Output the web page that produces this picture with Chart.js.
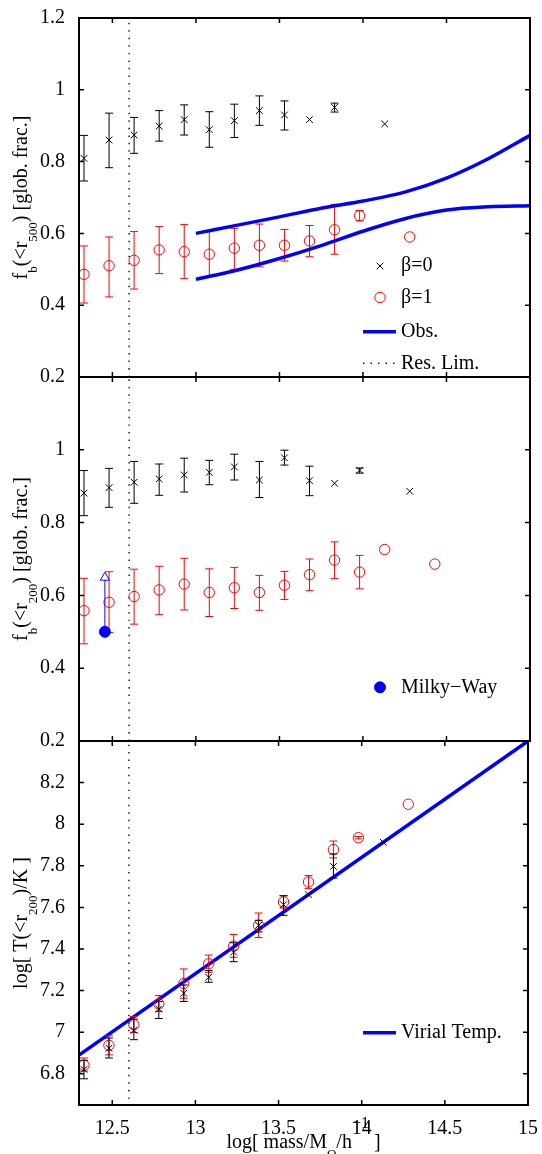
<!DOCTYPE html>
<html>
<head>
<meta charset="utf-8">
<script src="https://cdn.jsdelivr.net/npm/chart.js@4.4.0/dist/chart.umd.min.js"></script>
<style>
  body { margin: 0; background: #fff; }
  #wrap { position: relative; width: 542px; height: 1154px; }
  #wrap canvas { position: absolute; left: 0; top: 0; }
</style>
</head>
<body>
<div id="wrap">
  <canvas id="pFb500" width="542" height="1154"></canvas>
  <canvas id="pFb200" width="542" height="1154"></canvas>
  <canvas id="pTemp" width="542" height="1154"></canvas>
</div>
<script>
// mass bins (log M / h^-1 Msun)
const massBins = [12.33, 12.48, 12.63, 12.78, 12.93, 13.08, 13.23, 13.38, 13.53, 13.68, 13.83, 13.98, 14.13, 14.28, 14.43];

// baryon fraction inside r500, beta=0 / beta=1
const fb500Beta0   = [0.809, 0.860, 0.874, 0.899, 0.917, 0.889, 0.914, 0.942, 0.930, 0.917, 0.951, null, 0.905, null, null];
const fb500Beta0Lo = [0.746, 0.783, 0.823, 0.857, 0.874, 0.840, 0.867, 0.901, 0.888, null, 0.938, null, null, null, null];
const fb500Beta0Hi = [0.873, 0.935, 0.923, 0.942, 0.958, 0.939, 0.960, 0.983, 0.969, null, 0.963, null, null, null, null];
const fb500Beta1   = [0.486, 0.510, 0.525, 0.554, 0.549, 0.542, 0.559, 0.567, 0.567, 0.579, 0.610, 0.649, null, 0.590, null];
const fb500Beta1Lo = [0.406, 0.423, 0.445, 0.488, 0.474, 0.480, 0.500, 0.507, 0.523, 0.535, 0.542, 0.635, null, null, null];
const fb500Beta1Hi = [0.565, 0.590, 0.605, 0.619, 0.625, 0.607, 0.614, 0.626, 0.611, 0.622, 0.681, 0.664, null, null, null];

// observed band
const obsMass  = [13.0, 13.25, 13.5, 13.75, 14.0, 14.25, 14.5, 14.75, 15.0];
const obsUpper = [0.600, 0.623, 0.646, 0.670, 0.690, 0.715, 0.754, 0.808, 0.873];
const obsLower = [0.472, 0.498, 0.530, 0.566, 0.606, 0.641, 0.665, 0.674, 0.677];

// baryon fraction inside r200
const fb200Beta0   = [0.881, 0.896, 0.911, 0.920, 0.931, 0.938, 0.953, 0.917, 0.978, 0.915, 0.908, 0.944, null, 0.886, null];
const fb200Beta0Lo = [0.819, 0.842, 0.853, 0.875, 0.884, 0.904, 0.917, 0.869, 0.958, 0.874, null, 0.936, null, null, null];
const fb200Beta0Hi = [0.943, 0.949, 0.968, 0.961, 0.977, 0.971, 0.988, 0.968, 0.999, 0.955, null, 0.950, null, null, null];
const fb200Beta1   = [0.558, 0.581, 0.597, 0.615, 0.631, 0.608, 0.621, 0.608, 0.628, 0.657, 0.697, 0.664, 0.726, null, 0.686];
const fb200Beta1Lo = [0.467, 0.498, 0.521, 0.547, 0.560, 0.542, 0.564, 0.559, 0.589, 0.613, 0.646, 0.618, null, null, null];
const fb200Beta1Hi = [0.647, 0.665, 0.672, 0.680, 0.702, 0.673, 0.677, 0.655, 0.666, 0.700, 0.747, 0.710, null, null, null];

// Milky Way estimate with lower limit arrow
const mwMass = [12.455];
const mwFrac = [0.5];
const mwFracLimit = [0.649];

// log T(<r200)
const tBeta0   = [6.821, 6.923, 7.009, 7.111, 7.187, 7.264, 7.385, 7.514, 7.613, 7.661, 7.797, null, 7.913, null, null];
const tBeta0Lo = [6.776, 6.876, 6.964, 7.066, 7.148, 7.240, 7.339, 7.482, 7.562, null, 7.741, null, null, null, null];
const tBeta0Hi = [6.865, 6.972, 7.063, 7.148, 7.227, 7.296, 7.430, 7.538, 7.656, null, 7.857, null, null, null, null];
const tBeta1   = [6.841, 6.937, 7.036, 7.136, 7.234, 7.329, 7.414, 7.514, 7.626, 7.722, 7.878, 7.935, null, 8.096, null];
const tBeta1Lo = [6.813, 6.891, 6.999, 7.100, 7.163, 7.288, 7.360, 7.455, 7.597, 7.690, 7.838, 7.929, null, null, null];
const tBeta1Hi = [6.876, 6.983, 7.076, 7.176, 7.304, 7.371, 7.470, 7.573, 7.656, 7.753, 7.919, 7.941, null, null, null];

// virial temperature relation
const virialMass = [12.3, 15];
const virialT = [6.89, 8.4];

// resolution limit
const resLimMass = 12.6;
const resLimFrac = [0.2, 1.2];
const resLimT = [6.68, 8.4];

// ticks
const massTicks = [12.5, 13, 13.5, 14, 14.5, 15];
const fb500Ticks = [0.2, 0.4, 0.6, 0.8, 1, 1.2];
const fb200Ticks = [0.2, 0.4, 0.6, 0.8, 1];
const tempTicks = [6.8, 7, 7.2, 7.4, 7.6, 7.8, 8, 8.2];

const SERIF = '"Liberation Serif", "Times New Roman", serif';
Chart.defaults.font.family = SERIF;
Chart.defaults.font.size = 20;
Chart.defaults.color = '#000';

const pts = (xs, ys) => xs.map((x, i) => ({ x: x, y: ys[i] }));

function markers(label, ys, lo, hi, color, style, r) {
  return {
    label: label, data: pts(massBins, ys), errLo: lo, errHi: hi,
    showLine: false, pointStyle: style, pointRadius: r, pointBorderWidth: 1,
    pointBorderColor: color, pointBackgroundColor: 'rgba(0,0,0,0)', borderColor: color
  };
}
function curve(label, xs, ys, color, width, dash) {
  return {
    label: label, data: pts(xs, ys), showLine: true, pointRadius: 0,
    borderColor: color, borderWidth: width, borderDash: dash || [],
    cubicInterpolationMode: 'monotone'
  };
}
const resLim = ys => curve('Res. Lim.', [resLimMass, resLimMass], ys, '#222', 1.5, [1.5, 6]);

// vertical error bars with caps
const errorBars = {
  id: 'errorBars',
  afterDatasetDraw(chart, args) {
    const ds = chart.data.datasets[args.index];
    if (!ds.errLo) return;
    const { ctx, scales: { x, y } } = chart;
    ctx.save();
    ctx.strokeStyle = ds.pointBorderColor;
    ctx.lineWidth = 1;
    ds.data.forEach((p, i) => {
      const lo = ds.errLo[i], hi = ds.errHi[i];
      if (lo == null || hi == null) return;
      const px = x.getPixelForValue(p.x), y0 = y.getPixelForValue(lo), y1 = y.getPixelForValue(hi);
      ctx.beginPath();
      ctx.moveTo(px, y0); ctx.lineTo(px, y1);
      ctx.moveTo(px - 4, y0); ctx.lineTo(px + 4, y0);
      ctx.moveTo(px - 4, y1); ctx.lineTo(px + 4, y1);
      ctx.stroke();
    });
    ctx.restore();
  }
};

// box around the axes with inward ticks on all four sides
const frame = {
  id: 'frame',
  afterDraw(chart) {
    const { ctx, chartArea: a, scales: { x, y } } = chart;
    ctx.save();
    ctx.strokeStyle = '#000';
    ctx.lineWidth = 1.5;
    ctx.beginPath();
    x.ticks.forEach(t => {
      const px = x.getPixelForValue(t.value);
      ctx.moveTo(px, a.bottom); ctx.lineTo(px, a.bottom - 5);
      ctx.moveTo(px, a.top); ctx.lineTo(px, a.top + 5);
    });
    y.ticks.forEach(t => {
      const py = y.getPixelForValue(t.value);
      ctx.moveTo(a.left, py); ctx.lineTo(a.left + 5, py);
      ctx.moveTo(a.right, py); ctx.lineTo(a.right - 5, py);
    });
    ctx.stroke();
    ctx.lineWidth = 2;
    ctx.strokeRect(a.left, a.top, a.right - a.left, a.bottom - a.top);
    ctx.restore();
  }
};

// in-axes key built from the datasets it lists
const keyBox = {
  id: 'keyBox',
  afterDraw(chart, args, opts) {
    const { ctx, chartArea: a } = chart;
    ctx.save();
    ctx.font = '20px ' + SERIF;
    ctx.textBaseline = 'middle';
    opts.items.forEach(it => {
      const ds = chart.data.datasets[it.index];
      const y = a.top + it.dy;
      if (ds.showLine) {
        ctx.strokeStyle = ds.borderColor;
        ctx.lineWidth = ds.borderWidth;
        ctx.setLineDash(ds.borderDash || []);
        ctx.beginPath();
        ctx.moveTo(a.left + 284, y); ctx.lineTo(a.left + 317, y);
        ctx.stroke();
        ctx.setLineDash([]);
      } else {
        ctx.strokeStyle = ds.pointBorderColor;
        ctx.fillStyle = ds.pointBackgroundColor;
        ctx.lineWidth = ds.pointBorderWidth;
        Chart.helpers.drawPoint(ctx, { pointStyle: ds.pointStyle, radius: ds.pointRadius, borderWidth: ds.pointBorderWidth, rotation: 0 }, a.left + 301, y);
      }
      ctx.fillStyle = '#000';
      ctx.fillText(ds.label, a.left + 322, y);
    });
    ctx.restore();
  }
};

// axis titles with sub- and superscripts
function drawRich(ctx, parts, x, y, rotate) {
  const font = k => (k === 'sub' ? '13px ' : k === 'sup' ? '16px ' : '20px ') + SERIF;
  const shift = k => (k === 'sub' ? 10 : k === 'sup' ? -20 : 0);
  let total = 0;
  parts.forEach(([t, k]) => { ctx.font = font(k); total += ctx.measureText(t).width; });
  ctx.save();
  ctx.translate(x, y);
  if (rotate) ctx.rotate(-Math.PI / 2);
  ctx.fillStyle = '#000';
  ctx.textBaseline = 'alphabetic';
  let cx = -total / 2;
  parts.forEach(([t, k]) => {
    ctx.font = font(k);
    ctx.fillText(t, cx, shift(k));
    cx += ctx.measureText(t).width;
  });
  ctx.restore();
}
const axisText = {
  id: 'axisText',
  afterDraw(chart, args, opts) {
    const { ctx, chartArea: a } = chart;
    drawRich(ctx, opts.y, 27, (a.top + a.bottom) / 2, true);
    if (opts.x) drawRich(ctx, opts.x, (a.left + a.right) / 2, 1148, false);
  }
};

function panel(id, cfg) {
  return new Chart(document.getElementById(id), {
    type: 'scatter',
    data: { datasets: cfg.datasets },
    options: {
      responsive: false,
      animation: false,
      events: [],
      layout: { padding: { top: cfg.top, bottom: cfg.bottom, left: 0, right: 12 } },
      plugins: {
        legend: { display: false },
        tooltip: { enabled: false },
        keyBox: { items: cfg.key },
        axisText: cfg.titles
      },
      scales: {
        x: {
          type: 'linear', min: 12.3, max: 15,
          grid: { display: false }, border: { display: false },
          ticks: { display: cfg.showX, padding: 4, autoSkip: false, maxRotation: 0, callback: v => String(v) },
          afterBuildTicks: s => { s.ticks = massTicks.map(v => ({ value: v })); },
          afterFit: s => { s.height = cfg.showX ? 49 : 0; }
        },
        y: {
          type: 'linear', min: cfg.yMin, max: cfg.yMax,
          grid: { display: false }, border: { display: false },
          ticks: { padding: 6, autoSkip: false, callback: v => String(v) },
          afterBuildTicks: s => { s.ticks = cfg.yTicks.map(v => ({ value: v })); },
          afterFit: s => { s.width = 79; }
        }
      }
    },
    plugins: [errorBars, frame, keyBox, axisText]
  });
}

panel('pFb500', {
  top: 14, bottom: 777, showX: false, yMin: 0.2, yMax: 1.2, yTicks: fb500Ticks,
  datasets: [
    curve('Obs.', obsMass, obsUpper, '#0000ff', 3.5),
    curve('Obs.', obsMass, obsLower, '#0000ff', 3.5),
    markers('\u03b2=0', fb500Beta0, fb500Beta0Lo, fb500Beta0Hi, '#000000', 'crossRot', 4.7),
    markers('\u03b2=1', fb500Beta1, fb500Beta1Lo, fb500Beta1Hi, '#ff0000', 'circle', 5.2),
    resLim(resLimFrac)
  ],
  key: [{ index: 2, dy: 248 }, { index: 3, dy: 279.5 }, { index: 0, dy: 313.7 }, { index: 4, dy: 345.3 }],
  titles: { y: [['f', 'n'], ['b', 'sub'], ['(<r', 'n'], ['500', 'sub'], [') [glob. frac.]', 'n']] }
});

panel('pFb200', {
  top: 377, bottom: 413, showX: false, yMin: 0.2, yMax: 1.2, yTicks: fb200Ticks,
  datasets: [
    { label: 'Milky\u2212Way', data: pts(mwMass, mwFrac), showLine: false, pointStyle: 'circle', pointRadius: 5.5,
      pointBorderWidth: 1, pointBorderColor: '#0000ff', pointBackgroundColor: '#0000ff' },
    { label: 'limit', data: pts(mwMass, mwFracLimit), showLine: false, pointStyle: 'triangle', pointRadius: 5.3,
      pointBorderWidth: 1, pointBorderColor: '#0000ff', pointBackgroundColor: '#ffffff' },
    curve('limit', [mwMass[0], mwMass[0]], [mwFrac[0], mwFracLimit[0]], '#0000ff', 1),
    markers('\u03b2=0', fb200Beta0, fb200Beta0Lo, fb200Beta0Hi, '#000000', 'crossRot', 4.7),
    markers('\u03b2=1', fb200Beta1, fb200Beta1Lo, fb200Beta1Hi, '#ff0000', 'circle', 5.2),
    resLim(resLimFrac)
  ],
  key: [{ index: 0, dy: 310.3 }],
  titles: { y: [['f', 'n'], ['b', 'sub'], ['(<r', 'n'], ['200', 'sub'], [') [glob. frac.]', 'n']] }
});

panel('pTemp', {
  top: 741, bottom: 0, showX: true, yMin: 6.65, yMax: 8.4, yTicks: tempTicks,
  datasets: [
    markers('\u03b2=0', tBeta0, tBeta0Lo, tBeta0Hi, '#000000', 'crossRot', 4.7),
    markers('\u03b2=1', tBeta1, tBeta1Lo, tBeta1Hi, '#ff0000', 'circle', 5.2),
    curve('Virial Temp.', virialMass, virialT, '#0000ff', 3.5),
    resLim(resLimT)
  ],
  key: [{ index: 2, dy: 291.7 }],
  titles: {
    y: [['log[ T(<r', 'n'], ['200', 'sub'], [')/K ]', 'n']],
    x: [['log[ mass/M', 'n'], ['O', 'sub'], ['/h', 'n'], ['\u22121', 'sup'], [' ]', 'n']]
  }
});
</script>
</body>
</html>
